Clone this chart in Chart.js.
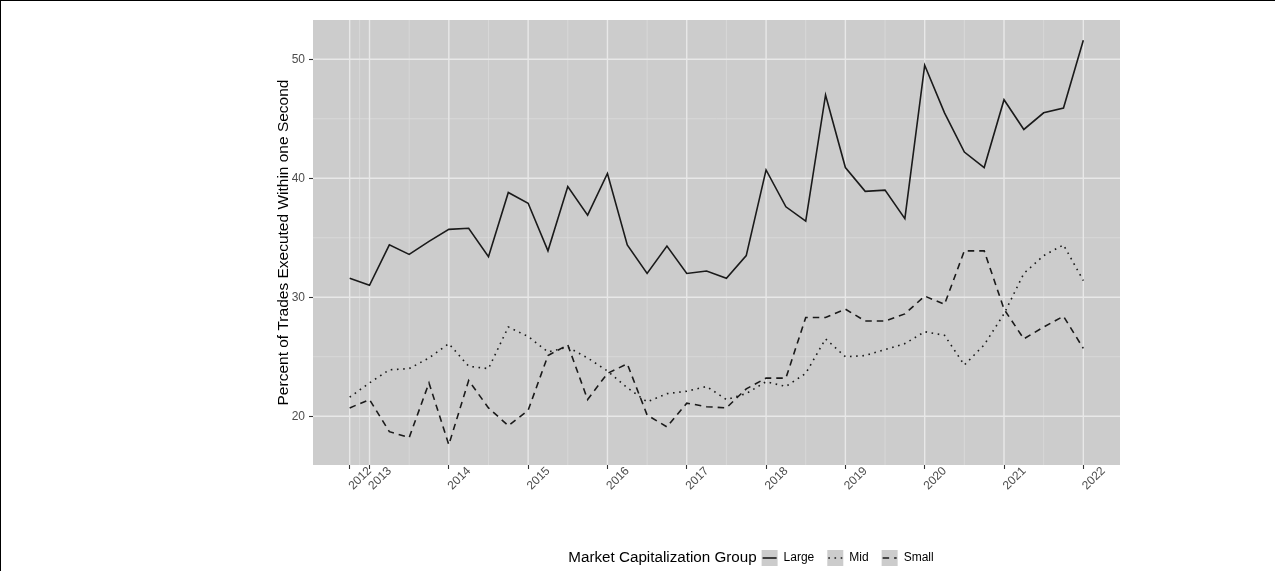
<!DOCTYPE html>
<html><head><meta charset="utf-8">
<script src="https://cdn.jsdelivr.net/npm/chart.js@4"></script>
<style>html,body{margin:0;padding:0;background:#fff;}#wrap{width:1275px;height:571px;position:relative;}</style>
</head><body><div id="wrap"><canvas id="c" width="1275" height="571"></canvas></div>
<script>
const quarters = ['2012 Q4',
  '2013 Q1','2013 Q2','2013 Q3','2013 Q4',
  '2014 Q1','2014 Q2','2014 Q3','2014 Q4',
  '2015 Q1','2015 Q2','2015 Q3','2015 Q4',
  '2016 Q1','2016 Q2','2016 Q3','2016 Q4',
  '2017 Q1','2017 Q2','2017 Q3','2017 Q4',
  '2018 Q1','2018 Q2','2018 Q3','2018 Q4',
  '2019 Q1','2019 Q2','2019 Q3','2019 Q4',
  '2020 Q1','2020 Q2','2020 Q3','2020 Q4',
  '2021 Q1','2021 Q2','2021 Q3','2021 Q4',
  '2022 Q1'];
const large = [31.6, 31.0, 34.4, 33.6, 34.7, 35.7, 35.8, 33.4, 38.8, 37.9, 33.9, 39.3, 36.9, 40.4, 34.4, 32.0, 34.3, 32.0, 32.2, 31.6, 33.5, 40.7, 37.6, 36.4, 47.0, 40.9, 38.9, 39.0, 36.6, 49.5, 45.5, 42.2, 40.9, 46.6, 44.1, 45.5, 45.9, 51.6];
const mid = [21.6, 22.8, 23.9, 24.0, 24.9, 26.1, 24.2, 24.0, 27.5, 26.7, 25.4, 25.8, 24.9, 23.8, 22.4, 21.2, 21.9, 22.1, 22.5, 21.4, 21.9, 22.9, 22.5, 23.6, 26.5, 25.0, 25.1, 25.6, 26.1, 27.1, 26.8, 24.3, 26.0, 28.6, 32.0, 33.5, 34.4, 31.4];
const small = [20.7, 21.4, 18.7, 18.2, 22.8, 17.6, 23.0, 20.7, 19.2, 20.5, 25.1, 26.0, 21.4, 23.6, 24.4, 20.1, 19.1, 21.1, 20.8, 20.7, 22.3, 23.2, 23.2, 28.3, 28.3, 29.0, 28.0, 28.0, 28.6, 30.1, 29.4, 33.9, 33.9, 29.0, 26.5, 27.5, 28.4, 25.7];
const seriesNames = ['Large', 'Mid', 'Small'];
const xTickValues = [2012.75, 2013, 2014, 2015, 2016, 2017, 2018, 2019, 2020, 2021, 2022];
const xTickLabels = ['2012', '2013', '2014', '2015', '2016', '2017', '2018', '2019', '2020', '2021', '2022'];
const yTickValues = [20, 30, 40, 50];
const yTickLabels = ['20', '30', '40', '50'];
const yTitle = 'Percent of Trades Executed Within one Second';
const legendTitle = 'Market Capitalization Group';

function qToYear(q) { const p = q.split(' Q'); return +p[0] + (+p[1] - 1) / 4; }
const xs = quarters.map(qToYear);
const pts = arr => arr.map((v, i) => ({x: xs[i], y: v}));

const FONT = "'Liberation Sans', Arial, sans-serif";
const PANEL = '#cccccc';
const dashes = [[], [1.6, 4.6], [6.5, 5]];

const xMin = Math.min(...xs), xMax = Math.max(...xs);
const allY = large.concat(mid, small);
const yMin = Math.min(...allY), yMax = Math.max(...allY);
const xExp = (xMax - xMin) * 0.05, yExp = (yMax - yMin) * 0.05;

const xMinor = xTickValues.slice(1).map((v, i) => (v + xTickValues[i]) / 2);
const yMinor = yTickValues.slice(1).map((v, i) => (v + yTickValues[i]) / 2);

const panelPlugin = {
  id: 'panel',
  beforeDraw(chart) {
    const {ctx, chartArea: a, scales: {x, y}} = chart;
    ctx.save();
    ctx.fillStyle = PANEL;
    ctx.fillRect(a.left, a.top, a.right - a.left, a.bottom - a.top);
    ctx.strokeStyle = '#dcdcdc'; ctx.lineWidth = 0.7;
    ctx.beginPath();
    xMinor.forEach(v => { const p = x.getPixelForValue(v); ctx.moveTo(p, a.top); ctx.lineTo(p, a.bottom); });
    yMinor.forEach(v => { const p = y.getPixelForValue(v); ctx.moveTo(a.left, p); ctx.lineTo(a.right, p); });
    ctx.stroke();
    ctx.strokeStyle = '#e8e8e8'; ctx.lineWidth = 1.4;
    ctx.beginPath();
    xTickValues.forEach(v => { const p = x.getPixelForValue(v); ctx.moveTo(p, a.top); ctx.lineTo(p, a.bottom); });
    yTickValues.forEach(v => { const p = y.getPixelForValue(v); ctx.moveTo(a.left, p); ctx.lineTo(a.right, p); });
    ctx.stroke();
    ctx.restore();
  },
  afterDraw(chart) {
    const {ctx} = chart;
    ctx.save();
    // outer border (top and left)
    ctx.fillStyle = '#000';
    ctx.fillRect(0, 0, chart.width, 1);
    ctx.fillRect(0, 0, 1, chart.height);
    // legend
    const cy = chart.height - 13;
    const key = 16;
    const titleFont = '15.2px ' + FONT, itemFont = '12px ' + FONT;
    ctx.font = titleFont;
    const tw = ctx.measureText(legendTitle).width;
    ctx.font = itemFont;
    const lw = seriesNames.map(n => ctx.measureText(n).width);
    const gapTitle = 5, gapKey = 6, gapItem = 13;
    let total = tw + gapTitle;
    lw.forEach((w, i) => { total += key + gapKey + w + (i < lw.length - 1 ? gapItem : 0); });
    let cx = 751 - total / 2;
    ctx.fillStyle = '#000';
    ctx.textBaseline = 'middle';
    ctx.textAlign = 'left';
    ctx.font = titleFont;
    ctx.fillText(legendTitle, cx, cy);
    cx += tw + gapTitle;
    seriesNames.forEach((n, i) => {
      ctx.fillStyle = PANEL;
      ctx.fillRect(cx, cy - key / 2, key, key);
      ctx.strokeStyle = '#1a1a1a'; ctx.lineWidth = 1.6;
      ctx.setLineDash(dashes[i]);
      ctx.beginPath(); ctx.moveTo(cx + 1, cy); ctx.lineTo(cx + key - 1, cy); ctx.stroke();
      ctx.setLineDash([]);
      cx += key + gapKey;
      ctx.fillStyle = '#000';
      ctx.font = itemFont;
      ctx.fillText(n, cx, cy);
      cx += lw[i] + gapItem;
    });
    ctx.restore();
  }
};

const mk = (arr, i) => ({
  label: seriesNames[i], data: pts(arr), borderColor: '#1a1a1a', borderWidth: 1.6,
  borderDash: dashes[i], pointRadius: 0, tension: 0, fill: false, borderCapStyle: 'butt'
});

new Chart(document.getElementById('c'), {
  type: 'line',
  data: { datasets: [mk(large, 0), mk(mid, 1), mk(small, 2)] },
  options: {
    responsive: false, animation: false, devicePixelRatio: 1,
    layout: { padding: { left: 268, top: 20, right: 155, bottom: 46 } },
    plugins: { legend: { display: false }, tooltip: { enabled: false } },
    scales: {
      x: {
        type: 'linear', min: xMin - xExp, max: xMax + xExp,
        afterBuildTicks: s => { s.ticks = xTickValues.map(v => ({value: v})); },
        afterFit: s => { s.height = 60; },
        ticks: {
          autoSkip: false, minRotation: 45, maxRotation: 45, labelOffset: 20, padding: -5,
          color: '#4d4d4d', font: { family: FONT, size: 12 },
          callback: (v, i) => xTickLabels[i]
        },
        grid: { drawOnChartArea: false, tickLength: 4, tickColor: '#333', tickWidth: 1.1 },
        border: { display: false }
      },
      y: {
        type: 'linear', min: yMin - yExp, max: yMax + yExp,
        afterBuildTicks: s => { s.ticks = yTickValues.map(v => ({value: v})); },
        afterFit: s => { s.width = 45; },
        ticks: {
          padding: 4, color: '#4d4d4d', font: { family: FONT, size: 12 },
          callback: (v, i) => yTickLabels[i]
        },
        grid: { drawOnChartArea: false, tickLength: 4, tickColor: '#333', tickWidth: 1.1 },
        border: { display: false },
        title: { display: true, text: yTitle, color: '#000', font: { family: FONT, size: 15.5 }, padding: { top: 6, bottom: 0 } }
      }
    }
  },
  plugins: [panelPlugin]
});
</script></body></html>
